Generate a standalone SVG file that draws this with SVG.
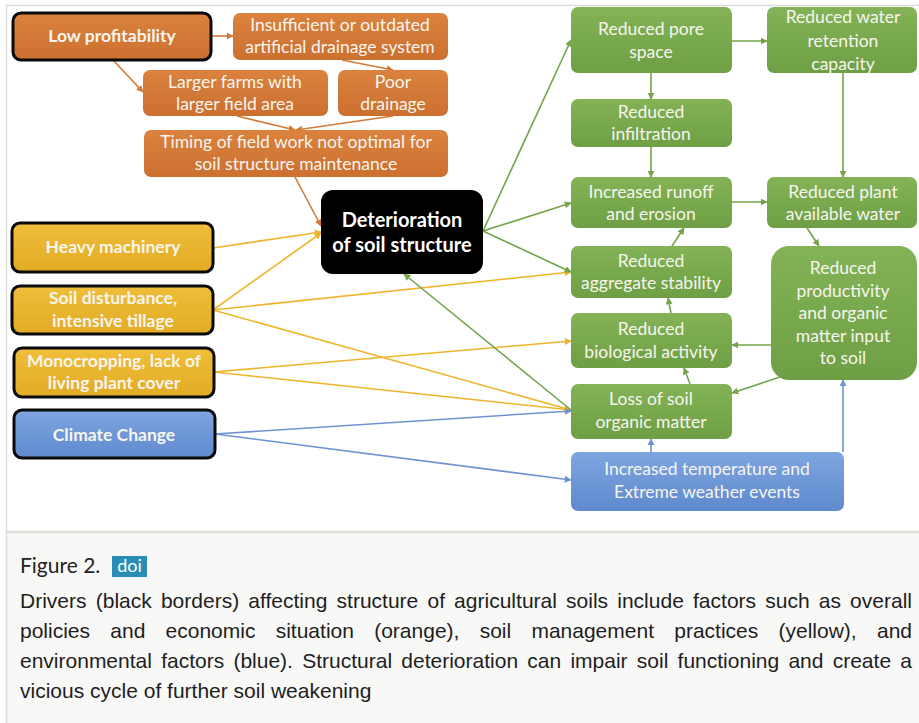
<svg xmlns="http://www.w3.org/2000/svg" width="919" height="723" viewBox="0 0 919 723">
  <defs>
    <linearGradient id="gOrange" x1="0" y1="0" x2="0" y2="1">
      <stop offset="0" stop-color="#da823e"/>
      <stop offset="1" stop-color="#cc7030"/>
    </linearGradient>
    <linearGradient id="gYellow" x1="0" y1="0" x2="0" y2="1">
      <stop offset="0" stop-color="#f0be3a"/>
      <stop offset="1" stop-color="#e2ab24"/>
    </linearGradient>
    <linearGradient id="gBlue" x1="0" y1="0" x2="0" y2="1">
      <stop offset="0" stop-color="#7ea5e0"/>
      <stop offset="1" stop-color="#5f8acd"/>
    </linearGradient>
    <linearGradient id="gGreen" x1="0" y1="0" x2="0" y2="1">
      <stop offset="0" stop-color="#83b356"/>
      <stop offset="1" stop-color="#6f9f44"/>
    </linearGradient>
    <marker id="aOrange" viewBox="0 0 10 10" refX="9" refY="5" markerWidth="7" markerHeight="7" markerUnits="userSpaceOnUse" orient="auto">
      <path d="M0,0 L10,5 L0,10 z" fill="#d27a38"/>
    </marker>
    <marker id="aYellow" viewBox="0 0 10 10" refX="9" refY="5" markerWidth="7" markerHeight="7" markerUnits="userSpaceOnUse" orient="auto">
      <path d="M0,0 L10,5 L0,10 z" fill="#eeb52c"/>
    </marker>
    <marker id="aBlue" viewBox="0 0 10 10" refX="9" refY="5" markerWidth="7" markerHeight="7" markerUnits="userSpaceOnUse" orient="auto">
      <path d="M0,0 L10,5 L0,10 z" fill="#6e93d2"/>
    </marker>
    <marker id="aGreen" viewBox="0 0 10 10" refX="9" refY="5" markerWidth="7" markerHeight="7" markerUnits="userSpaceOnUse" orient="auto">
      <path d="M0,0 L10,5 L0,10 z" fill="#74a34a"/>
    </marker>
  </defs>
  <style>
    .orange { fill: url(#gOrange); }
    .yellow { fill: url(#gYellow); }
    .blue { fill: url(#gBlue); }
    .green { fill: url(#gGreen); }
    .driver { stroke: #0a0a0a; stroke-width: 3; }
    .lbl { font-family: Lato, "Open Sans", "Liberation Sans", sans-serif; font-size: 17.5px; fill: #f7f5f0; text-anchor: middle; }
    .bold { font-weight: bold; }
    .big { font-size: 20px; fill: #ffffff; }
    .eO { stroke: #d27a38; stroke-width: 1.6; fill: none; marker-end: url(#aOrange); }
    .eY { stroke: #eeb52c; stroke-width: 1.6; fill: none; marker-end: url(#aYellow); }
    .eB { stroke: #6e93d2; stroke-width: 1.6; fill: none; marker-end: url(#aBlue); }
    .eG { stroke: #74a34a; stroke-width: 1.6; fill: none; marker-end: url(#aGreen); }
    .cap { font-family: "Liberation Sans", Arial, sans-serif; font-size: 21px; fill: #1e1e1e; }
  </style>

  <!-- page frame -->
  <rect x="0" y="0" width="919" height="723" fill="#ffffff"/>
  <line x1="6" y1="5.5" x2="919" y2="5.5" stroke="#dcdcd8" stroke-width="1.5"/>
  <rect x="6" y="532" width="913" height="191" fill="#f8f8f6"/>
  <line x1="6" y1="532" x2="919" y2="532" stroke="#dfdfda" stroke-width="2.5"/>
  <line x1="6.5" y1="5" x2="6.5" y2="723" stroke="#dcdcd8" stroke-width="1.5"/>

  <!-- connectors -->
  <g id="connectors">
    <!-- economic chain -->
    <line class="eO" x1="211" y1="36" x2="233" y2="36"/>
    <line class="eO" x1="113" y1="60" x2="143" y2="92"/>
    <line class="eO" x1="342" y1="60" x2="393" y2="70"/>
    <line class="eO" x1="237" y1="116" x2="295" y2="130"/>
    <line class="eO" x1="393" y1="116" x2="296" y2="130"/>
    <line class="eO" x1="295" y1="177" x2="321" y2="226"/>
    <!-- management practices -->
    <line class="eY" x1="213" y1="248" x2="321" y2="232"/>
    <line class="eY" x1="213" y1="310" x2="321" y2="233"/>
    <line class="eY" x1="213" y1="310" x2="571" y2="272"/>
    <line class="eY" x1="213" y1="310" x2="571" y2="410"/>
    <line class="eY" x1="214" y1="372" x2="571" y2="341"/>
    <line class="eY" x1="214" y1="372" x2="571" y2="410"/>
    <!-- environment -->
    <line class="eB" x1="215" y1="434" x2="571" y2="411"/>
    <line class="eB" x1="215" y1="434" x2="571" y2="480"/>
    <line class="eB" x1="651" y1="452" x2="651" y2="439"/>
    <line class="eB" x1="843" y1="452" x2="843" y2="380"/>
    <!-- consequences -->
    <line class="eG" x1="483" y1="231" x2="571" y2="40"/>
    <line class="eG" x1="483" y1="231" x2="571" y2="203"/>
    <line class="eG" x1="483" y1="231" x2="571" y2="272"/>
    <line class="eG" x1="571" y1="410" x2="404" y2="274"/>
    <line class="eG" x1="732" y1="41" x2="767" y2="41"/>
    <line class="eG" x1="651" y1="73" x2="651" y2="99"/>
    <line class="eG" x1="651" y1="147" x2="651" y2="177"/>
    <line class="eG" x1="843" y1="73" x2="843" y2="177"/>
    <line class="eG" x1="732" y1="202" x2="767" y2="202"/>
    <line class="eG" x1="807" y1="228" x2="819" y2="246"/>
    <line class="eG" x1="672" y1="246" x2="684" y2="228"/>
    <line class="eG" x1="671" y1="313" x2="668" y2="298"/>
    <line class="eG" x1="771" y1="345" x2="732" y2="345"/>
    <line class="eG" x1="780" y1="377" x2="732" y2="393"/>
    <line class="eG" x1="690" y1="384" x2="684" y2="368"/>
  </g>

  <!-- economic drivers -->
  <g id="low-profitability">
    <rect class="orange driver" x="13" y="13" width="198" height="47" rx="8"/>
    <text class="lbl bold" x="112" y="42">Low profitability</text>
  </g>
  <g id="drainage-system">
    <rect class="orange" x="233" y="13" width="215" height="47" rx="7"/>
    <text class="lbl" x="340" y="31">Insufficient or outdated</text>
    <text class="lbl" x="340" y="53">artificial drainage system</text>
  </g>
  <g id="larger-farms">
    <rect class="orange" x="143" y="70" width="185" height="46" rx="7"/>
    <text class="lbl" x="235" y="88">Larger farms with</text>
    <text class="lbl" x="235" y="110">larger field area</text>
  </g>
  <g id="poor-drainage">
    <rect class="orange" x="338" y="70" width="110" height="46" rx="7"/>
    <text class="lbl" x="393" y="88">Poor</text>
    <text class="lbl" x="393" y="110">drainage</text>
  </g>
  <g id="field-work-timing">
    <rect class="orange" x="144" y="130" width="304" height="47" rx="7"/>
    <text class="lbl" x="296" y="148">Timing of field work not optimal for</text>
    <text class="lbl" x="296" y="170">soil structure maintenance</text>
  </g>

  <!-- management drivers -->
  <g id="heavy-machinery">
    <rect class="yellow driver" x="12" y="223" width="201" height="49" rx="8"/>
    <text class="lbl bold" x="113" y="253">Heavy machinery</text>
  </g>
  <g id="soil-disturbance">
    <rect class="yellow driver" x="12" y="286" width="201" height="48" rx="8"/>
    <text class="lbl bold" x="113" y="304">Soil disturbance,</text>
    <text class="lbl bold" x="113" y="327">intensive tillage</text>
  </g>
  <g id="monocropping">
    <rect class="yellow driver" x="14" y="348" width="200" height="49" rx="8"/>
    <text class="lbl bold" x="114" y="367">Monocropping, lack of</text>
    <text class="lbl bold" x="114" y="389">living plant cover</text>
  </g>

  <!-- environmental driver -->
  <g id="climate-change">
    <rect class="blue driver" x="14" y="410" width="201" height="48" rx="8"/>
    <text class="lbl bold" x="114" y="441">Climate Change</text>
  </g>

  <!-- central node -->
  <g id="deterioration">
    <rect x="321" y="190" width="162" height="84" rx="12" fill="#000000"/>
    <text class="lbl bold big" x="402" y="227">Deterioration</text>
    <text class="lbl bold big" x="402" y="252">of soil structure</text>
  </g>

  <!-- consequences -->
  <g id="pore-space">
    <rect class="green" x="571" y="7" width="161" height="66" rx="7"/>
    <text class="lbl" x="651" y="35">Reduced pore</text>
    <text class="lbl" x="651" y="58">space</text>
  </g>
  <g id="water-retention">
    <rect class="green" x="767" y="7" width="150" height="66" rx="7"/>
    <text class="lbl" x="843" y="23">Reduced water</text>
    <text class="lbl" x="843" y="47">retention</text>
    <text class="lbl" x="843" y="70">capacity</text>
  </g>
  <g id="infiltration">
    <rect class="green" x="571" y="99" width="161" height="48" rx="7"/>
    <text class="lbl" x="651" y="118">Reduced</text>
    <text class="lbl" x="651" y="140">infiltration</text>
  </g>
  <g id="runoff">
    <rect class="green" x="571" y="177" width="161" height="51" rx="7"/>
    <text class="lbl" x="651" y="198">Increased runoff</text>
    <text class="lbl" x="651" y="220">and erosion</text>
  </g>
  <g id="plant-water">
    <rect class="green" x="767" y="177" width="150" height="51" rx="7"/>
    <text class="lbl" x="843" y="198">Reduced plant</text>
    <text class="lbl" x="843" y="220">available water</text>
  </g>
  <g id="aggregate-stability">
    <rect class="green" x="571" y="246" width="161" height="52" rx="7"/>
    <text class="lbl" x="651" y="267">Reduced</text>
    <text class="lbl" x="651" y="289">aggregate stability</text>
  </g>
  <g id="biological-activity">
    <rect class="green" x="571" y="313" width="161" height="55" rx="7"/>
    <text class="lbl" x="651" y="335">Reduced</text>
    <text class="lbl" x="651" y="358">biological activity</text>
  </g>
  <g id="organic-matter">
    <rect class="green" x="571" y="384" width="161" height="55" rx="7"/>
    <text class="lbl" x="651" y="405">Loss of soil</text>
    <text class="lbl" x="651" y="428">organic matter</text>
  </g>
  <g id="productivity">
    <rect class="green" x="771" y="246" width="146" height="134" rx="18"/>
    <text class="lbl" x="843" y="274">Reduced</text>
    <text class="lbl" x="843" y="297">productivity</text>
    <text class="lbl" x="843" y="319">and organic</text>
    <text class="lbl" x="843" y="342">matter input</text>
    <text class="lbl" x="843" y="364">to soil</text>
  </g>
  <g id="temperature-extremes">
    <rect class="blue" x="571" y="452" width="273" height="59" rx="7"/>
    <text class="lbl" x="707" y="475">Increased temperature and</text>
    <text class="lbl" x="707" y="498">Extreme weather events</text>
  </g>

  <!-- caption -->
  <g id="caption">
    <text x="20" y="573" font-family="Lato, 'Open Sans', sans-serif" font-size="21" fill="#222222">Figure 2.</text>
    <rect x="112" y="556" width="35" height="21" fill="#2a8db3"/>
    <text x="129.5" y="572" font-family="Lato, 'Open Sans', sans-serif" font-size="18" fill="#ffffff" text-anchor="middle">doi</text>
    <text class="cap" x="20" y="608" word-spacing="3.3" textLength="892" lengthAdjust="spacing">Drivers (black borders) affecting structure of agricultural soils include factors such as overall</text>
    <text class="cap" x="20" y="638" word-spacing="14.4" textLength="892" lengthAdjust="spacing">policies and economic situation (orange), soil management practices (yellow), and</text>
    <text class="cap" x="20" y="668" word-spacing="3.4" textLength="892" lengthAdjust="spacing">environmental factors (blue). Structural deterioration can impair soil functioning and create a</text>
    <text class="cap" x="20" y="698">vicious cycle of further soil weakening</text>
  </g>
</svg>
